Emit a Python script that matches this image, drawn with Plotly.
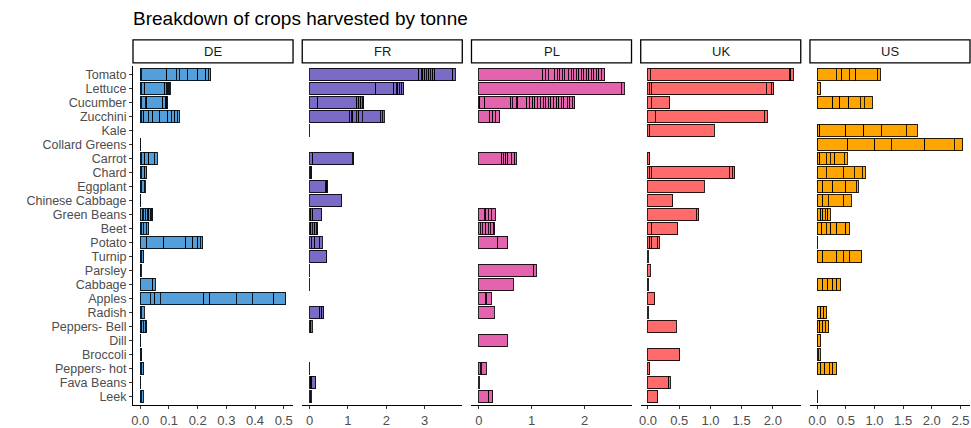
import plotly.graph_objects as go
from plotly.subplots import make_subplots

# ---------------- data ----------------
crops = ["Tomato", "Lettuce", "Cucumber", "Zucchini", "Kale", "Collard Greens",
         "Carrot", "Chard", "Eggplant", "Chinese Cabbage", "Green Beans", "Beet",
         "Potato", "Turnip", "Parsley", "Cabbage", "Apples", "Radish",
         "Peppers- Bell", "Dill", "Broccoli", "Peppers- hot", "Fava Beans", "Leek"]

countries = ["DE", "FR", "PL", "UK", "US"]

# individual harvest weights (tonnes) per crop, stacked into each bar
de_harvests = {
    "Tomato": [0.003, 0.090, 0.033, 0.009, 0.028, 0.038, 0.027, 0.009, 0.008],
    "Lettuce": [0.003, 0.012, 0.070, 0.005, 0.004, 0.003, 0.004, 0.004],
    "Cucumber": [0.003, 0.015, 0.005, 0.056, 0.009, 0.004, 0.004],
    "Zucchini": [0.003, 0.009, 0.015, 0.017, 0.023, 0.029, 0.012, 0.012, 0.008, 0.007],
    "Collard Greens": [0.001],
    "Carrot": [0.003, 0.012, 0.015, 0.018, 0.011],
    "Chard": [0.004, 0.012, 0.007],
    "Eggplant": [0.003, 0.010, 0.004],
    "Chinese Cabbage": [0.001],
    "Green Beans": [0.006, 0.004, 0.008, 0.006, 0.005, 0.005, 0.005, 0.005],
    "Beet": [0.004, 0.006, 0.010, 0.009],
    "Potato": [0.023, 0.059, 0.076, 0.025, 0.018, 0.008, 0.009],
    "Turnip": [0.004, 0.008],
    "Parsley": [0.003],
    "Cabbage": [0.043, 0.009],
    "Apples": [0.035, 0.015, 0.020, 0.151, 0.021, 0.093, 0.056, 0.074, 0.042],
    "Radish": [0.004, 0.009],
    "Peppers- Bell": [0.005, 0.006, 0.006, 0.006],
    "Dill": [0.001],
    "Broccoli": [0.005],
    "Peppers- hot": [0.004, 0.008],
    "Fava Beans": [0.002],
    "Leek": [0.004, 0.007],
}

fr_harvests = {
    "Tomato": [2.85, 0.06, 0.04, 0.05, 0.04, 0.07, 0.04, 0.06, 0.05, 0.47, 0.06],
    "Lettuce": [1.72, 0.47, 0.07, 0.04, 0.04, 0.05, 0.06],
    "Cucumber": [0.22, 1.01, 0.05, 0.05, 0.04, 0.04],
    "Zucchini": [1.04, 0.05, 0.04, 0.09, 0.06, 0.09, 0.47, 0.05, 0.06],
    "Kale": [0.01],
    "Carrot": [0.09, 1.02, 0.04],
    "Chard": [0.02, 0.02, 0.02],
    "Eggplant": [0.41, 0.04, 0.03],
    "Chinese Cabbage": [0.84],
    "Green Beans": [0.03, 0.05, 0.24],
    "Beet": [0.03, 0.04, 0.06, 0.05, 0.04],
    "Potato": [0.04, 0.09, 0.13, 0.07],
    "Turnip": [0.45],
    "Parsley": [0.01],
    "Cabbage": [0.01],
    "Radish": [0.27, 0.05, 0.05],
    "Peppers- Bell": [0.03, 0.04],
    "Peppers- hot": [0.01],
    "Fava Beans": [0.03, 0.03, 0.10],
    "Leek": [0.02, 0.03],
}

pl_harvests = {
    "Tomato": [1.21, 0.05, 0.05, 0.12, 0.05, 0.05, 0.05, 0.04, 0.07, 0.06, 0.04, 0.05,
               0.05, 0.05, 0.04, 0.05, 0.05, 0.05, 0.04, 0.05, 0.05, 0.05, 0.06],
    "Lettuce": [2.69, 0.06],
    "Cucumber": [0.02, 0.09, 0.49, 0.03, 0.08, 0.03, 0.17, 0.05, 0.06, 0.04, 0.05,
                 0.05, 0.06, 0.04, 0.05, 0.05, 0.06, 0.05, 0.04, 0.05, 0.05, 0.06,
                 0.05, 0.05, 0.04],
    "Zucchini": [0.21, 0.05, 0.05, 0.09],
    "Carrot": [0.43, 0.03, 0.05, 0.04, 0.06, 0.07, 0.03],
    "Green Beans": [0.10, 0.03, 0.05, 0.06, 0.07],
    "Beet": [0.03, 0.04, 0.06, 0.05, 0.04, 0.05, 0.03],
    "Potato": [0.36, 0.19],
    "Parsley": [1.04, 0.05],
    "Cabbage": [0.65],
    "Apples": [0.12, 0.02, 0.10],
    "Radish": [0.29],
    "Dill": [0.54],
    "Peppers- hot": [0.03, 0.02, 0.09],
    "Fava Beans": [0.01],
    "Leek": [0.19, 0.07],
}

uk_harvests = {
    "Tomato": [0.04, 2.23, 0.02, 0.04],
    "Lettuce": [0.02, 0.04, 1.83, 0.09, 0.03],
    "Cucumber": [0.05, 0.30],
    "Zucchini": [0.12, 1.74, 0.05],
    "Kale": [0.03, 1.03],
    "Carrot": [0.03],
    "Chard": [0.02, 0.03, 1.25, 0.05, 0.04],
    "Eggplant": [0.90],
    "Chinese Cabbage": [0.40],
    "Green Beans": [0.77, 0.04],
    "Beet": [0.06, 0.42],
    "Potato": [0.03, 0.03, 0.09, 0.03],
    "Turnip": [0.005],
    "Parsley": [0.04],
    "Cabbage": [0.005],
    "Apples": [0.11],
    "Radish": [0.005],
    "Peppers- Bell": [0.45],
    "Broccoli": [0.51],
    "Peppers- hot": [0.03],
    "Fava Beans": [0.33, 0.03],
    "Leek": [0.16],
}

us_harvests = {
    "Tomato": [0.33, 0.10, 0.13, 0.11, 0.38, 0.05],
    "Lettuce": [0.06],
    "Cucumber": [0.27, 0.12, 0.16, 0.20, 0.07, 0.14],
    "Kale": [0.04, 0.46, 0.31, 0.31, 0.43, 0.20],
    "Collard Greens": [0.53, 0.47, 0.29, 0.59, 0.51, 0.15],
    "Carrot": [0.04, 0.12, 0.07, 0.08, 0.16, 0.05],
    "Chard": [0.16, 0.29, 0.20, 0.14, 0.05],
    "Eggplant": [0.10, 0.17, 0.23, 0.18, 0.04],
    "Chinese Cabbage": [0.10, 0.09, 0.26, 0.14],
    "Green Beans": [0.06, 0.04, 0.04, 0.04, 0.05],
    "Beet": [0.08, 0.08, 0.08, 0.10, 0.16, 0.06],
    "Potato": [0.005],
    "Turnip": [0.10, 0.24, 0.11, 0.11, 0.22],
    "Cabbage": [0.10, 0.08, 0.09, 0.07, 0.07],
    "Radish": [0.06, 0.05, 0.06],
    "Peppers- Bell": [0.04, 0.06, 0.04, 0.06],
    "Dill": [0.06],
    "Broccoli": [0.02, 0.03],
    "Peppers- hot": [0.06, 0.07, 0.08, 0.06, 0.07],
    "Leek": [0.005],
}

x_dticks = [0.1, 1, 1, 0.5, 0.5]
x_formats = [".1f", "d", "d", ".1f", ".1f"]

# ---------------- styling ----------------
colors = ["#539FDB", "#7B6BC7", "#E463AE", "#FF6B6B", "#FFA500"]
FONT = "Liberation Sans, Arial, sans-serif"

all_harvests = [de_harvests, fr_harvests, pl_harvests, uk_harvests, us_harvests]

fig = make_subplots(rows=1, cols=5, shared_yaxes=True, horizontal_spacing=0.011)

for i, (country, harv) in enumerate(zip(countries, all_harvests)):
    ys, xs = [], []
    for crop in crops:
        for w in harv.get(crop, []):
            ys.append(crop)
            xs.append(w)
    fig.add_trace(go.Bar(
        x=xs, y=ys, orientation="h", name=country,
        marker=dict(color=colors[i], line=dict(color="rgba(0,0,0,0.85)", width=1)),
        showlegend=False,
    ), row=1, col=i + 1)

    totals = [sum(v) for v in harv.values()]
    mx = max(totals)
    fig.update_xaxes(
        row=1, col=i + 1,
        range=[-0.05 * mx, 1.05 * mx],
        dtick=x_dticks[i], tick0=0, tickformat=x_formats[i],
        showline=True, linecolor="black", linewidth=1,
        ticks="outside", ticklen=3, tickcolor="#333333", tickwidth=1,
        showgrid=False, zeroline=False,
        tickfont=dict(family=FONT, size=13, color="#4d4d4d"),
    )
    xref = "x domain" if i == 0 else f"x{i + 1} domain"
    fig.add_shape(type="rect", xref=xref, yref="paper", x0=0, x1=1,
                  y0=1.009, y1=1.077, line=dict(color="black", width=1.3),
                  fillcolor="white", layer="below")
    fig.add_annotation(text=country, xref=xref, yref="paper", x=0.5, y=1.043,
                       showarrow=False, font=dict(family=FONT, size=13, color="#1a1a1a"),
                       xanchor="center", yanchor="middle")

fig.update_yaxes(type="category", categoryorder="array", categoryarray=crops,
                 range=[len(crops) - 0.4, -0.6], showgrid=False, zeroline=False,
                 tickmode="array", tickvals=crops, ticktext=crops)
fig.update_yaxes(row=1, col=1, showline=True, linecolor="black", linewidth=1,
                 ticks="outside", ticklen=3, tickcolor="#333333",
                 tickfont=dict(family=FONT, size=12.5, color="#4d4d4d"))
for c in range(2, 6):
    fig.update_yaxes(row=1, col=c, showline=False, ticks="", showticklabels=False)

fig.update_layout(
    width=971, height=428,
    barmode="stack", bargap=0.1,
    margin=dict(l=133, r=1, t=66, b=23),
    plot_bgcolor="white", paper_bgcolor="white",
    title=dict(text="Breakdown of crops harvested by tonne", x=133 / 971, xanchor="left",
               y=1 - 18 / 428, yanchor="middle",
               font=dict(family=FONT, size=19, color="black")),
    font=dict(family=FONT),
)

fig.write_html("out.html", config={"displayModeBar": False},
               post_script="document.body.style.margin='0';document.body.style.overflow='hidden';")
